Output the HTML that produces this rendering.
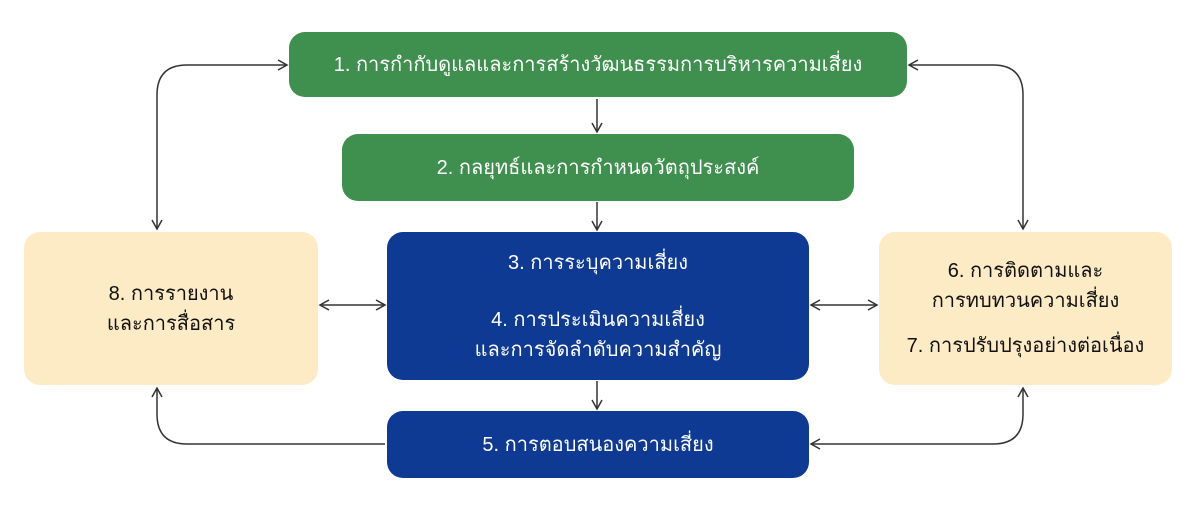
<!DOCTYPE html>
<html><head><meta charset="utf-8"><style>
body{margin:0;width:1200px;height:509px;background:#fff;position:relative;overflow:hidden;font-family:"Liberation Sans","DejaVu Sans",sans-serif}
.b{position:absolute;border-radius:16px;display:flex;flex-direction:column;align-items:center;justify-content:center;text-align:center;font-size:20px;line-height:30px}
.g{background:#3f8f4e;color:#fff}.n{background:#0e3a94;color:#fff}.c{background:#fcebc5;color:#111}
svg{position:absolute;left:0;top:0}
</style></head><body>
<div class="b g" style="left:289px;top:32px;width:618px;height:65px">1. การกำกับดูแลและการสร้างวัฒนธรรมการบริหารความเสี่ยง</div>
<div class="b g" style="left:342px;top:134px;width:512px;height:67px">2. กลยุทธ์และการกำหนดวัตถุประสงค์</div>
<div class="b n" style="left:387px;top:232px;width:422px;height:148px"><div>3. การระบุความเสี่ยง</div><div style="height:27px"></div><div>4. การประเมินความเสี่ยง</div><div>และการจัดลำดับความสำคัญ</div></div>
<div class="b n" style="left:387px;top:411px;width:422px;height:67px">5. การตอบสนองความเสี่ยง</div>
<div class="b c" style="left:24px;top:232px;width:294px;height:153px"><div>8. การรายงาน</div><div>และการสื่อสาร</div></div>
<div class="b c" style="left:879px;top:232px;width:293px;height:153px"><div>6. การติดตามและ</div><div>การทบทวนความเสี่ยง</div><div style="height:15px"></div><div>7. การปรับปรุงอย่างต่อเนื่อง</div></div>
<svg width="1200" height="509" fill="none" stroke="#333" stroke-width="1.5">
<defs><marker id="a" markerWidth="12" markerHeight="12" refX="10" refY="6" orient="auto-start-reverse" markerUnits="userSpaceOnUse"><path d="M1,1 L10,6 L1,11" stroke="#333" stroke-width="1.5" fill="none"/></marker></defs>
<path d="M157,229 V95 Q157,65 187,65 H287" marker-start="url(#a)" marker-end="url(#a)"/>
<path d="M1023,229 V95 Q1023,65 993,65 H909" marker-start="url(#a)" marker-end="url(#a)"/>
<path d="M385,444 H187 Q157,444 157,414 V388" marker-end="url(#a)"/>
<path d="M1023,388 V414 Q1023,444 993,444 H811" marker-start="url(#a)" marker-end="url(#a)"/>
<path d="M320,305 H385" marker-start="url(#a)" marker-end="url(#a)"/>
<path d="M811,305 H877" marker-start="url(#a)" marker-end="url(#a)"/>
<path d="M597,99 V132" marker-end="url(#a)"/>
<path d="M597,202 V230" marker-end="url(#a)"/>
<path d="M597,381 V409" marker-end="url(#a)"/>
</svg>
</body></html>
